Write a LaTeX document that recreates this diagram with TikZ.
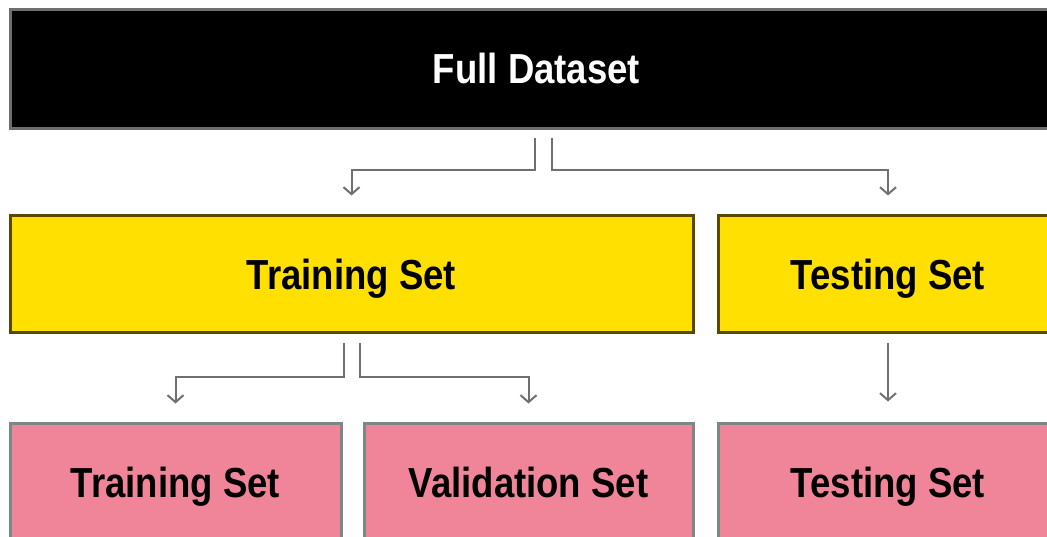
\documentclass[tikz,border=0pt]{standalone}
\usepackage{fontspec}
\setmainfont[FakeStretch=0.87]{Liberation Sans}
\usepackage{tikz}
\usetikzlibrary{arrows.meta,positioning}

\definecolor{setYellow}{RGB}{255,224,0}
\definecolor{setYellowEdge}{RGB}{90,72,0}
\definecolor{setPink}{RGB}{240,132,152}
\definecolor{setPinkEdge}{RGB}{125,135,133}
\definecolor{fullEdge}{RGB}{110,110,110}
\definecolor{connGray}{RGB}{112,112,112}

\begin{document}
\begin{tikzpicture}[x=1pt, y=1pt, semithick]
	\tikzstyle{box} = [rectangle, line width=3pt, minimum height=118pt, inner sep=0pt, text height=37pt, text depth=7pt, font={\fontsize{42}{50}\selectfont\bfseries}]
	\tikzstyle{fullBox} = [box, fill=black, draw=fullEdge, text=white, minimum height=119pt, text height=35pt]
	\tikzstyle{splitBox} = [box, fill=setYellow, draw=setYellowEdge, minimum height=117pt]
	\tikzstyle{partBox} = [box, fill=setPink, draw=setPinkEdge]
	\tikzstyle{conn} = [connGray, line width=2pt, -{Straight Barb[length=7pt,width=16pt]}]

	\useasboundingbox (0,0) rectangle (1047,536);
	\clip (0,0) rectangle (1047,536);
	\fill[white] (0,0) rectangle (1047,536);

	\node[fullBox, minimum width=1053pt](full) at (536.5,466.5) {Full Dataset};
	\node[splitBox, minimum width=683pt](tr) at (351.5,261.5) {Training Set};
	\node[splitBox, minimum width=340pt](te) at (888,261.5) {Testing Set};
	\node[partBox, minimum width=331pt](trp) at (175.5,54) {Training Set};
	\node[partBox, minimum width=329pt](val) at (528.5,54) {Validation Set};
	\node[partBox, minimum width=340pt](tep) at (888,54) {Testing Set};

	\draw[conn, shorten <=8pt, shorten >=19pt] ([xshift=-1.5pt]full.south) -- ++(0,-40) -| (tr.north);
	\draw[conn, shorten <=8pt, shorten >=19pt] ([xshift=15.5pt]full.south) -- ++(0,-40) -| (te.north);
	\draw[conn, shorten <=9pt, shorten >=18pt] ([xshift=-8pt]tr.south) -- ++(0,-43) -| (trp.north);
	\draw[conn, shorten <=9pt, shorten >=18pt] ([xshift=8pt]tr.south) -- ++(0,-43) -| (val.north);
	\draw[conn, shorten <=9pt, shorten >=20pt] (te.south) -- (tep.north);
\end{tikzpicture}
\end{document}
